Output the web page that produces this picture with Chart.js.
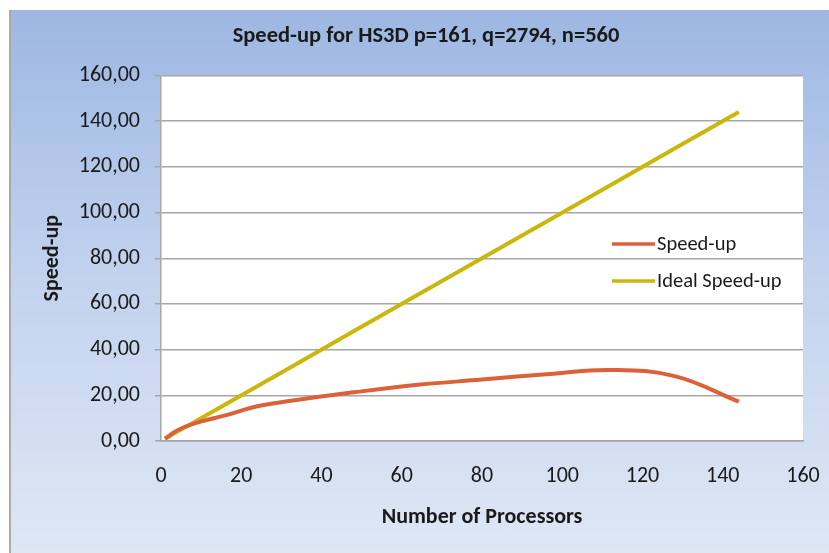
<!DOCTYPE html>
<html>
<head>
<meta charset="utf-8">
<script src="https://cdn.jsdelivr.net/npm/chart.js@4/dist/chart.umd.min.js"></script>
<style>
  html, body { margin: 0; padding: 0; background: #ffffff; }
  #frame {
    position: absolute; left: 9px; top: 10px; width: 818px; height: 543px;
    border-left: 2px solid #a9a9a9;
    background: linear-gradient(to bottom, #9db7e2 0%, #c3d3ee 50%, #dfe7f4 100%);
  }
  #chart { display: block; }
</style>
</head>
<body>
<div id="frame"><canvas id="chart" width="818" height="543"></canvas></div>
<script>
// Data
const processors = [1, 4, 8, 16, 24, 32, 48, 64, 80, 96, 112, 128, 144];
const speedUp = [1.0, 4.6, 7.5, 11.2, 15.2, 17.5, 21.3, 24.6, 26.9, 29.2, 31.1, 28.4, 17.2];
const idealSpeedUp = [1, 4, 8, 16, 24, 32, 48, 64, 80, 96, 112, 128, 144];
const seriesLabels = ['Speed-up', 'Ideal Speed-up'];
const seriesColors = ['#dc603a', '#cbb70c'];

const FONT = "Carlito, 'Liberation Sans Narrow', 'DejaVu Sans Condensed', sans-serif";

function toPoints(xs, ys) {
  return xs.map((x, i) => ({ x: x, y: ys[i] }));
}

// White plot area
const plotBackground = {
  id: 'plotBackground',
  beforeDraw(chart) {
    const { ctx, chartArea } = chart;
    ctx.save();
    ctx.fillStyle = '#ffffff';
    ctx.fillRect(chartArea.left, chartArea.top, chartArea.right - chartArea.left, chartArea.bottom - chartArea.top);
    ctx.restore();
  }
};

// nudge the title a little to the right, like the original
const titleShift = {
  id: 'titleShift',
  afterLayout(chart) {
    if (chart.titleBlock) {
      chart.titleBlock.left += 6;
      chart.titleBlock.right += 6;
    }
  }
};

// Legend drawn inside the plot area, on the right
const innerLegend = {
  id: 'innerLegend',
  afterDraw(chart) {
    const { ctx } = chart;
    const x0 = 601, y0 = 234, rowGap = 37;
    ctx.save();
    ctx.font = '20.5px ' + FONT;
    ctx.textBaseline = 'middle';
    chart.data.datasets.forEach((ds, i) => {
      const y = y0 + i * rowGap;
      ctx.strokeStyle = ds.borderColor;
      ctx.lineWidth = 3.5;
      ctx.beginPath();
      ctx.moveTo(x0, y);
      ctx.lineTo(x0 + 43, y);
      ctx.stroke();
      ctx.fillStyle = '#1a1a1a';
      ctx.fillText(ds.label, x0 + 45, y + 1);
    });
    ctx.restore();
  }
};

new Chart(document.getElementById('chart'), {
  type: 'line',
  data: {
    datasets: [
      {
        label: seriesLabels[0],
        data: toPoints(processors, speedUp),
        borderColor: seriesColors[0],
        borderWidth: 4,
        pointRadius: 0,
        tension: 0.4
      },
      {
        label: seriesLabels[1],
        data: toPoints(processors, idealSpeedUp),
        borderColor: seriesColors[1],
        borderWidth: 4,
        pointRadius: 0,
        tension: 0
      }
    ]
  },
  options: {
    responsive: false,
    animation: false,
    layout: { padding: 0 },
    plugins: {
      legend: { display: false },
      tooltip: { enabled: false },
      title: {
        display: true,
        text: 'Speed-up for HS3D p=161, q=2794, n=560',
        color: '#1a1a1a',
        font: { family: FONT, size: 22.5, weight: 'bold' },
        padding: { top: 13, bottom: 25.5 }
      }
    },
    scales: {
      x: {
        type: 'linear',
        min: 0,
        max: 160,
        ticks: {
          stepSize: 20,
          padding: 22,
          color: '#1a1a1a',
          font: { family: FONT, size: 22 }
        },
        grid: { display: false, drawTicks: false },
        border: { display: true, color: '#a6a6a6', width: 1.5 },
        title: {
          display: true,
          text: 'Number of Processors',
          color: '#1a1a1a',
          font: { family: FONT, size: 22, weight: 'bold' },
          padding: { top: 0, bottom: 22 }
        },
        afterFit(scale) {
          scale.height = 112;
          scale.paddingLeft = 0;
          scale.paddingRight = 26;
        }
      },
      y: {
        min: 0,
        max: 160,
        ticks: {
          stepSize: 20,
          padding: 15,
          color: '#1a1a1a',
          font: { family: FONT, size: 22 },
          callback: (v) => v.toFixed(2).replace('.', ',')
        },
        grid: { color: '#a6a6a6', lineWidth: 1.5, tickLength: 6 },
        border: { display: true, color: '#a6a6a6', width: 1.5 },
        title: {
          display: true,
          text: 'Speed-up',
          color: '#1a1a1a',
          font: { family: FONT, size: 22, weight: 'bold' },
          padding: { top: 28, bottom: 0 }
        },
        afterFit(scale) { scale.width = 150; }
      }
    }
  },
  plugins: [plotBackground, titleShift, innerLegend]
});
</script>
</body>
</html>
